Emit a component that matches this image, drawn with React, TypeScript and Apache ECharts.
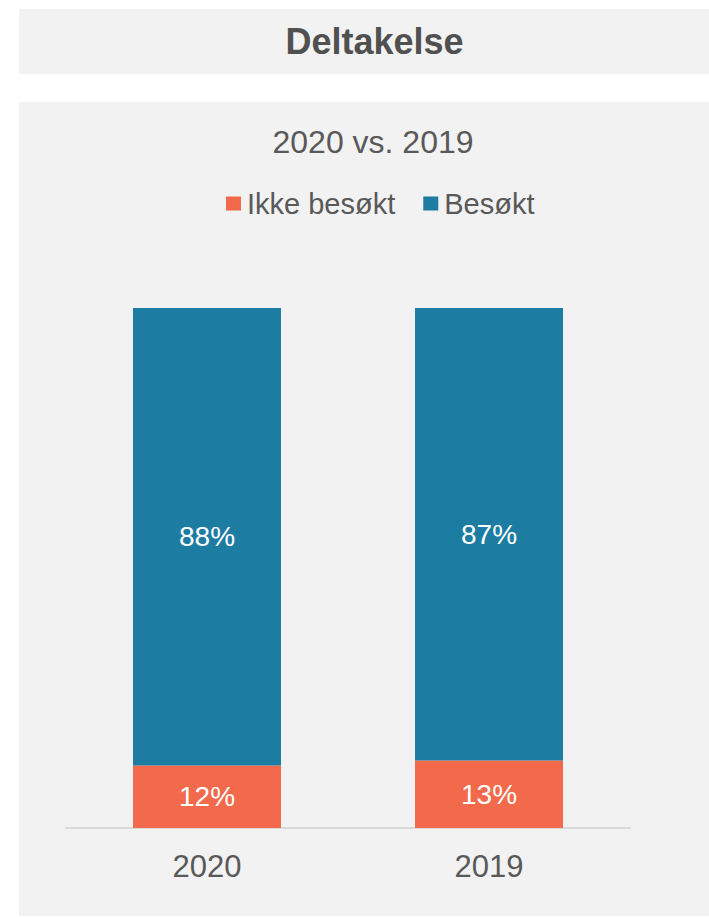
import React, { useEffect, useRef } from "react";
import * as echarts from "echarts";

const categories = ["2020", "2019"];
const ikkeBesokt = [12, 13];
const besokt = [88, 87];
const seriesNames = ["Ikke besøkt", "Besøkt"];
const titleText = "Deltakelse";
const subtitleText = "2020 vs. 2019";

const FONT = "'Liberation Sans', Arial, sans-serif";
const TEXT = "#595959";
const RED = "#f2694b";
const BLUE = "#1d7ca2";
const PANEL = "#f2f2f2";

export default function App() {
  const ref = useRef<HTMLDivElement>(null);
  useEffect(() => {
    if (!ref.current) return;
    const chart = echarts.init(ref.current, null, { renderer: "svg" });
    chart.setOption({
      animation: false,
      backgroundColor: "#ffffff",
      graphic: [
        { type: "rect", z: -10, shape: { x: 19, y: 9, width: 700, height: 65 }, style: { fill: PANEL } },
        { type: "rect", z: -10, shape: { x: 19, y: 102, width: 700, height: 814 }, style: { fill: PANEL } },
        {
          type: "text",
          x: 374.5,
          y: 41,
          style: {
            text: titleText,
            align: "center",
            verticalAlign: "middle",
            fill: "#505050",
            font: `bold 36px ${FONT}`,
          },
        },
        {
          type: "text",
          x: 373,
          y: 142,
          style: {
            text: subtitleText,
            align: "center",
            verticalAlign: "middle",
            fill: TEXT,
            font: `32px ${FONT}`,
          },
        },
      ],
      legend: {
        left: 221,
        top: 184,
        itemWidth: 15,
        itemHeight: 14,
        itemGap: 28,
        icon: "rect",
        data: seriesNames,
        textStyle: { color: TEXT, fontSize: 29, fontFamily: FONT, padding: [0, 0, 0, 1] },
      },
      grid: { left: 66, right: 79, top: 308, bottom: 90, containLabel: false },
      xAxis: {
        type: "category",
        data: categories,
        axisLine: { lineStyle: { color: "#d9d9d9", width: 2 } },
        axisTick: { show: false },
        axisLabel: { color: TEXT, fontSize: 31, fontFamily: FONT, margin: 23 },
      },
      yAxis: {
        type: "value",
        min: 0,
        max: 100,
        show: false,
        splitLine: { show: false },
      },
      series: [
        {
          name: seriesNames[0],
          type: "bar",
          stack: "total",
          data: ikkeBesokt,
          barWidth: 148,
          itemStyle: { color: RED },
          label: {
            show: true,
            position: "inside",
            formatter: "{c}%",
            color: "#ffffff",
            fontSize: 28,
            fontFamily: FONT,
          },
        },
        {
          name: seriesNames[1],
          type: "bar",
          stack: "total",
          data: besokt,
          barWidth: 148,
          itemStyle: { color: BLUE },
          label: {
            show: true,
            position: "inside",
            formatter: "{c}%",
            color: "#ffffff",
            fontSize: 28,
            fontFamily: FONT,
          },
        },
      ],
    });
    return () => chart.dispose();
  }, []);
  return (
    <div
      ref={ref}
      style={{ position: "absolute", left: 0, top: 0, width: 709, height: 918 }}
    />
  );
}
